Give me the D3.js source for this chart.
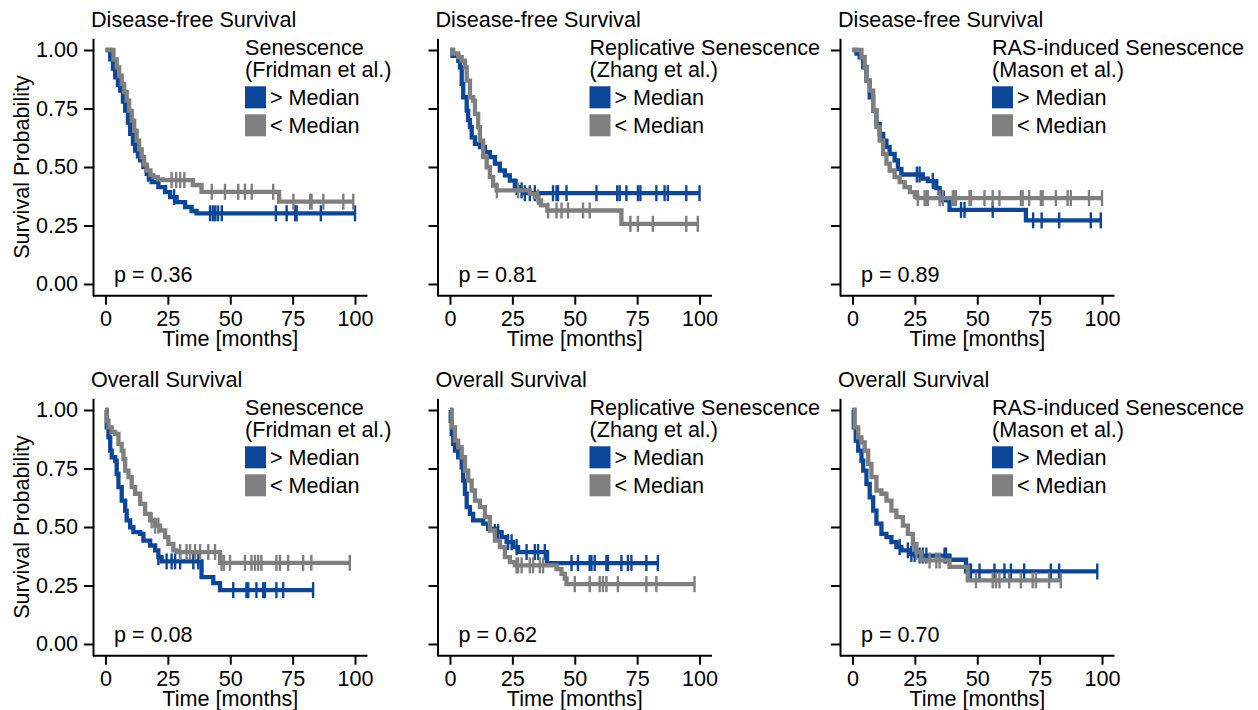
<!DOCTYPE html>
<html>
<head>
<meta charset="utf-8">
<script src="https://cdn.jsdelivr.net/npm/d3@7"></script>
<style>
body { margin: 0; background: #fff; }
text { font-family: "Liberation Sans", Arial, sans-serif; fill: #000; }
</style>
</head>
<body>
<svg id="chart" width="1258" height="710"></svg>
<script>
// ---- data ----
var endpointTitles = ["Disease-free Survival", "Overall Survival"];
var signatureNames = [
    ["Senescence", "(Fridman et al.)"],
    ["Replicative Senescence", "(Zhang et al.)"],
    ["RAS-induced Senescence", "(Mason et al.)"]
];
var groupLabels = ["> Median", "< Median"];
var pValues = [["0.36", "0.81", "0.89"], ["0.08", "0.62", "0.70"]];
var xTicks = [0, 25, 50, 75, 100];
var yTicks = [0, 0.25, 0.5, 0.75, 1];

// [time in months, survival] after each step
var dfsFridmanHigh = [[0,1],[1.9,0.96],[3,0.92],[3.9,0.883],[5,0.85],[5.9,0.826],[7,0.78],[7.9,0.741],[9,0.69],[9.9,0.642],[11,0.6],[11.9,0.57],[13,0.545],[13.9,0.528],[15.2,0.5],[16.5,0.471],[17.5,0.45],[18.5,0.435],[21.2,0.414],[23.9,0.393],[25.9,0.371],[28.5,0.35],[31.9,0.329],[34.5,0.312],[36.5,0.302]];
var dfsFridmanHighCens = [17, 27.5, 41.9, 43, 44, 45.1, 46.6, 68.3, 72.6, 76, 76.6, 86.3, 100];
var dfsFridmanLow = [[0,1],[3.2,0.96],[4.5,0.926],[5.5,0.89],[6.5,0.855],[7.5,0.82],[8.5,0.784],[9.5,0.74],[10.5,0.698],[11.5,0.655],[12.5,0.613],[13.5,0.575],[14.5,0.542],[15.5,0.51],[16.5,0.485],[18,0.465],[19.2,0.457],[21,0.447],[23,0.444],[35,0.423],[38.5,0.394],[69.6,0.352]];
var dfsFridmanLowCens = [26.5, 28.3, 29.9, 31.6, 42.6, 47.9, 53.2, 55.9, 58.6, 67.2, 75.3, 82, 82.6, 87.3, 95.3, 99.3];

var dfsZhangHigh = [[0,1],[1,0.975],[3.3,0.955],[4,0.926],[4.7,0.855],[5.3,0.798],[6.7,0.741],[7.3,0.7],[8,0.67],[8.7,0.627],[10,0.599],[12,0.585],[14,0.563],[16,0.542],[18,0.514],[20,0.485],[22,0.464],[24,0.442],[26,0.414],[28,0.4],[30,0.388]];
var dfsZhangHighCens = [26.7, 28.7, 30, 32, 34, 41.3, 42.7, 43.3, 46.7, 58.7, 67, 68, 70.7, 75.3, 76.3, 82.7, 86, 87.3, 94.7, 100];
var dfsZhangLow = [[0,1],[1.3,0.985],[3.3,0.969],[4.7,0.954],[6,0.926],[6.7,0.869],[8,0.798],[9.3,0.784],[10,0.727],[11.3,0.67],[12,0.613],[13.3,0.542],[14.7,0.499],[16,0.457],[17.3,0.421],[18.7,0.4],[32,0.385],[34,0.371],[35.5,0.357],[36.5,0.336],[39,0.314],[68.7,0.257]];
var dfsZhangLowCens = [18.8, 27.3, 35.3, 39.3, 42.7, 44.7, 47.3, 53.3, 56, 72.3, 75.3, 81.3, 94.7, 99.3];

var dfsMasonHigh = [[0,1],[1.6,0.985],[2.9,0.969],[4.3,0.926],[5.6,0.869],[6.9,0.798],[8.3,0.741],[9.6,0.684],[10.9,0.641],[12.3,0.613],[13.6,0.585],[14.9,0.556],[16.9,0.528],[18.2,0.492],[19.6,0.468],[28.2,0.45],[30.2,0.44],[33.6,0.41],[34.9,0.39],[36.2,0.357],[38.9,0.317],[69.5,0.272]];
var dfsMasonHighCens = [25.8, 26.9, 32.2, 43.5, 44.9, 56.2, 72.4, 75.8, 82.8, 95.5, 99.5];
var dfsMasonLow = [[0,1],[3.6,0.97],[4.9,0.926],[5.6,0.869],[6.9,0.826],[8.3,0.741],[9.6,0.67],[10.9,0.613],[12.3,0.556],[13.6,0.514],[14.9,0.485],[16.9,0.457],[18.9,0.435],[20.9,0.414],[23,0.393],[25,0.374],[26,0.367]];
var dfsMasonLowCens = [26.2, 28.9, 29.6, 30.2, 34.9, 36.2, 40.2, 40.9, 41.5, 46.9, 47.5, 52.9, 56.2, 58.9, 67.5, 68.2, 70.8, 75.5, 76.2, 81.5, 86.2, 87.5, 94.8, 100];

var osFridmanHigh = [[0,1],[0.5,0.926],[1.2,0.883],[1.9,0.826],[2.5,0.798],[3.9,0.784],[4.5,0.727],[5.2,0.67],[6.5,0.613],[7.9,0.57],[8.5,0.528],[9.9,0.499],[11.2,0.478],[13.9,0.471],[15.2,0.442],[17.9,0.421],[19.9,0.4],[21.2,0.371],[22.5,0.353],[38.5,0.286],[43.2,0.26],[45.9,0.23]];
var osFridmanHighCens = [21.2, 24.5, 26.5, 27.9, 29.9, 35.2, 37.2, 51.2, 56.5, 57.2, 60.5, 63.2, 63.9, 68.5, 71.2, 83.2];
var osFridmanLow = [[0,1],[0.5,0.954],[1.2,0.926],[2.5,0.906],[3.9,0.898],[5.2,0.855],[6.5,0.826],[7.2,0.79],[7.9,0.741],[9.2,0.713],[10.5,0.67],[11.9,0.642],[13.9,0.599],[15.9,0.556],[17.9,0.528],[19.9,0.506],[21.9,0.485],[23.9,0.457],[25.2,0.428],[27.2,0.4],[28.5,0.393],[45.9,0.347]];
var osFridmanLowCens = [18.5, 19.9, 21.2, 29.9, 32.5, 33.9, 35.9, 37.9, 41.2, 43.9, 46.5, 47.5, 49.9, 55.9, 58.5, 59.9, 61.2, 62.5, 68.5, 69.9, 73.2, 79.2, 82.5, 97.9];

var osZhangHigh = [[0,1],[0.3,0.954],[0.7,0.898],[1.3,0.855],[2,0.826],[3.3,0.798],[4.7,0.755],[5.3,0.698],[6,0.642],[6.7,0.585],[8,0.556],[9.3,0.528],[13.3,0.514],[15.3,0.492],[18,0.478],[20.7,0.457],[22.7,0.435],[25.3,0.414],[27.3,0.393],[38.9,0.346]];
var osZhangHighCens = [18, 19.3, 23.3, 24.7, 26.7, 30.7, 34, 35.3, 38, 48.7, 51.3, 56, 56.7, 58, 62.7, 63.3, 68.7, 71.3, 72.7, 78.7, 83.3];
var osZhangLow = [[0,1],[0.7,0.926],[2,0.869],[3.3,0.84],[4.7,0.798],[6,0.741],[7.3,0.698],[8.7,0.656],[10,0.613],[12,0.585],[14,0.542],[16,0.485],[18,0.442],[20,0.414],[22,0.371],[24,0.35],[26,0.336],[42.7,0.32],[44.7,0.3],[46,0.28],[46.7,0.256]];
var osZhangLowCens = [26.7, 27.3, 28.7, 32, 33.3, 36, 37.3, 50, 56, 60, 61.3, 62.7, 67.3, 78.7, 82.7, 98];

var osMasonHigh = [[0,1],[0.5,0.926],[1.3,0.869],[2.3,0.826],[3.6,0.784],[4.3,0.741],[5.6,0.684],[6.9,0.627],[8.3,0.57],[9.6,0.514],[11.6,0.471],[13.6,0.457],[15.6,0.435],[17.6,0.414],[19.6,0.4],[22.9,0.385],[25,0.378],[38.9,0.36],[45.5,0.31]];
var osMasonHighCens = [18.9, 22.2, 23.6, 24.9, 26.9, 28.2, 29.6, 36.9, 37.5, 46.9, 47.5, 50.9, 56.9, 60.9, 63.5, 68.8, 79.5, 82.8, 98.1];
var osMasonLow = [[0,1],[0.9,0.926],[2.3,0.883],[3.6,0.862],[4.9,0.826],[6.3,0.77],[7.6,0.713],[9.6,0.656],[11.6,0.642],[13.6,0.613],[15.6,0.57],[17.6,0.542],[20.2,0.506],[22.2,0.471],[24.2,0.428],[25.6,0.393],[27.6,0.357],[38.9,0.33],[46.2,0.272]];
var osMasonLowCens = [25.6, 30.9, 33.6, 34.9, 49.5, 56.2, 57.5, 58.9, 62.8, 67.5, 72.2, 73.5, 78.8, 83.5];

var highCurves = [[dfsFridmanHigh, dfsZhangHigh, dfsMasonHigh], [osFridmanHigh, osZhangHigh, osMasonHigh]];
var highCens = [[dfsFridmanHighCens, dfsZhangHighCens, dfsMasonHighCens], [osFridmanHighCens, osZhangHighCens, osMasonHighCens]];
var lowCurves = [[dfsFridmanLow, dfsZhangLow, dfsMasonLow], [osFridmanLow, osZhangLow, osMasonLow]];
var lowCens = [[dfsFridmanLowCens, dfsZhangLowCens, dfsMasonLowCens], [osFridmanLowCens, osZhangLowCens, osMasonLowCens]];

// ---- layout ----
var blue = "#0c4699", grey = "#7f7f7f";
var colLeft = [93, 437.5, 840], rowTop = [38.3, 398.3];
var plotW = 274.5, plotH = 257.4;
var fontSize = "21.6px";

var svg = d3.select("#chart");

function survAt(curve, t) {
    var s = curve[0][1];
    curve.forEach(function(d) { if (d[0] <= t) s = d[1]; });
    return s;
}

function drawPanel(row, col) {
    var left = colLeft[col], top = rowTop[row];
    var x = d3.scaleLinear().domain([-5, 105]).range([left, left + plotW]);
    var y = d3.scaleLinear().domain([-0.05, 1.05]).range([top + plotH, top]);
    var g = svg.append("g");

    // axes
    var xAxis = g.append("g")
        .attr("transform", "translate(0," + (top + plotH) + ")")
        .call(d3.axisBottom(x).tickValues(xTicks).tickSize(9).tickSizeOuter(0).tickPadding(6));
    var yAxis = g.append("g")
        .attr("transform", "translate(" + left + ",0)")
        .call(d3.axisLeft(y).tickValues(yTicks).tickSize(9).tickSizeOuter(0).tickPadding(6)
            .tickFormat(col == 0 ? d3.format(".2f") : function() { return ""; }));
    [xAxis, yAxis].forEach(function(a) {
        a.selectAll("path, line").attr("stroke", "#000").attr("stroke-width", 2);
        a.selectAll("text").style("font-size", fontSize).attr("fill", "#000");
    });
    xAxis.select(".domain").attr("d", "M" + left + ",0H" + (left + plotW));

    // curves, blue first so grey sits on top
    var series = [
        { curve: highCurves[row][col], cens: highCens[row][col], color: blue },
        { curve: lowCurves[row][col], cens: lowCens[row][col], color: grey }
    ];
    var line = d3.line()
        .x(function(d) { return x(d[0]); })
        .y(function(d) { return y(d[1]); })
        .curve(d3.curveStepAfter);

    series.forEach(function(s) {
        var last = s.curve[s.curve.length - 1];
        var tEnd = Math.max(last[0], d3.max(s.cens));
        var pts = s.curve.concat([[tEnd, last[1]]]);
        g.append("path")
            .attr("d", line(pts))
            .attr("fill", "none")
            .attr("stroke", s.color)
            .attr("stroke-width", 4.3);
        g.selectAll(null)
            .data(s.cens)
            .enter().append("line")
            .attr("x1", function(t) { return x(t); })
            .attr("x2", function(t) { return x(t); })
            .attr("y1", function(t) { return y(survAt(s.curve, t)) - 8; })
            .attr("y2", function(t) { return y(survAt(s.curve, t)) + 8; })
            .attr("stroke", s.color)
            .attr("stroke-width", 2.4);
    });

    // titles
    g.append("text")
        .attr("x", left - 2)
        .attr("y", top - 11.6)
        .style("font-size", fontSize)
        .text(endpointTitles[row]);
    g.append("text")
        .attr("x", x(50))
        .attr("y", top + plotH + 50.5)
        .attr("text-anchor", "middle")
        .style("font-size", fontSize)
        .text("Time [months]");
    if (col == 0) {
        g.append("text")
            .attr("transform", "translate(28.5," + y(0.5) + ") rotate(-90)")
            .attr("text-anchor", "middle")
            .style("font-size", fontSize)
            .text("Survival Probability");
    }
    g.append("text")
        .attr("x", x(3.4))
        .attr("y", y(0) - 2.5)
        .style("font-size", fontSize)
        .text("p = " + pValues[row][col]);

    // legend
    var lx = left + 152;
    signatureNames[col].forEach(function(t, i) {
        g.append("text")
            .attr("x", lx)
            .attr("y", top + 17 + i * 21.5)
            .style("font-size", fontSize)
            .text(t);
    });
    groupLabels.forEach(function(t, i) {
        var ky = top + 48 + i * 28;
        g.append("rect")
            .attr("x", lx)
            .attr("y", ky)
            .attr("width", 21)
            .attr("height", 22)
            .attr("fill", series[i].color);
        g.append("text")
            .attr("x", lx + 25)
            .attr("y", ky + 11)
            .attr("dy", "0.35em")
            .style("font-size", fontSize)
            .text(t);
    });
}

for (var r = 0; r < 2; r++) {
    for (var c = 0; c < 3; c++) {
        drawPanel(r, c);
    }
}
</script>
</body>
</html>
